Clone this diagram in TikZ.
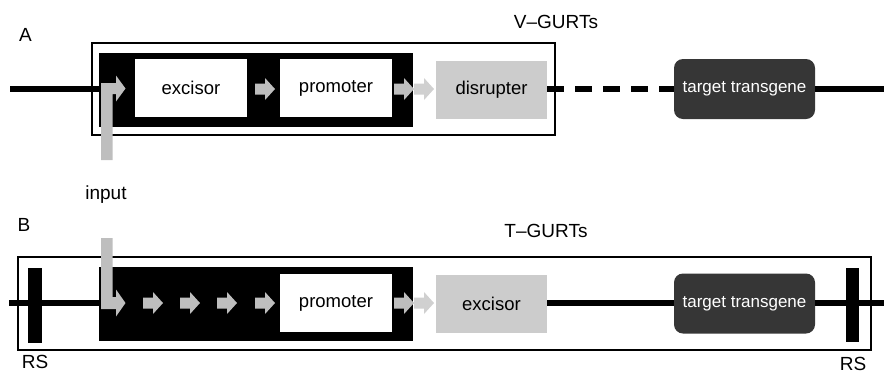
\documentclass[tikz,border=0pt]{standalone}
\usepackage{fontspec}
\setmainfont{Liberation Sans}
\definecolor{lightbox}{HTML}{CCCCCC}
\definecolor{arrowgrey}{HTML}{BEBEBE}
\definecolor{arrowlight}{HTML}{D0D0D0}
\definecolor{darkbox}{HTML}{363636}
\begin{document}
\begin{tikzpicture}[x=1pt,y=-1pt,
  outerbox/.style={draw=black, line width=2pt, fill=white, inner sep=0pt},
  blackbox/.style={fill=black, inner sep=0pt, minimum width=314pt, minimum height=74pt},
  whitebox/.style={fill=white, inner sep=0pt, font=\fontsize{18.5}{20}\selectfont, minimum width=112pt, minimum height=58pt},
  greybox/.style={fill=lightbox, inner sep=0pt, font=\fontsize{18.5}{20}\selectfont, minimum width=111pt, minimum height=58pt},
  targetbox/.style={fill=darkbox, rounded corners=9pt, text=white, inner sep=0pt, font=\fontsize{17}{19}\selectfont, minimum width=141pt, minimum height=60pt},
  dna/.style={line width=6pt, black},
  dnadash/.style={line width=6pt, black, dash pattern=on 17pt off 11pt},
  lbl/.style={font=\fontsize{19}{21}\selectfont, inner sep=0pt},
  rsbar/.style={fill=black, inner sep=0pt, minimum width=14pt, minimum height=75pt},
  inputarrow/.style={fill=arrowgrey},
  blockarrow/.pic={\fill[#1] (-20,-5.5) -- (-10,-5.5) -- (-10,-11) -- (0,0) -- (-10,11) -- (-10,5.5) -- (-20,5.5) -- cycle;}
]
\useasboundingbox (0,0) rectangle (884,373);

% ---------------- Panel A ----------------
\node[lbl] (labA) at (25.5,35) {A};
\node[lbl] (titleA) at (556,22) {V--GURTs};
\node[outerbox, minimum width=463pt, minimum height=92pt] (outerA) at (323.5,89) {};
\coordinate (startA) at (10,88.5);
\coordinate (endA) at (884,88.5);
\node[blackbox] (blackA) at (256,90) {};
\node[whitebox] (excisorA) at (191,88) {excisor};
\node[whitebox] (promoterA) at (336,88) {promoter};
\node[greybox] (disrupterA) at (491.5,89.5) {disrupter};
\node[targetbox] (targetA) at (744.5,89) {target transgene};
\draw[dna] (startA) -- (blackA.west |- startA);
\draw[dnadash] (disrupterA.east |- startA) -- (targetA.west |- startA);
\draw[dna] (targetA.east |- startA) -- (endA);
\pic at (275,89) {blockarrow=arrowgrey};
\pic at (414,89) {blockarrow=arrowgrey};
\pic at (434,89) {blockarrow=arrowlight};
\fill[inputarrow] (101,160) -- (101,83) -- (116,83) -- (116,75.5) -- (125.5,88.5) -- (116,101.5) -- (116,94) -- (112.5,94) -- (112.5,160) -- cycle;

% ---------------- Panel B ----------------
\node[lbl] (inputlab) at (106,195) {input};
\node[lbl] (labB) at (24,225) {B};
\node[lbl] (titleB) at (546,231) {T--GURTs};
\node[outerbox, minimum width=853pt, minimum height=93pt] (outerB) at (444.5,303.5) {};
\coordinate (startB) at (9,303);
\coordinate (endB) at (884,303);
\node[blackbox] (blackB) at (256,304) {};
\node[whitebox] (promoterB) at (336,303) {promoter};
\node[greybox] (excisorB) at (491.5,304) {excisor};
\node[targetbox] (targetB) at (744.5,303.5) {target transgene};
\draw[dna] (startB) -- (blackB.west |- startB);
\draw[dna] (excisorB.east |- startB) -- (targetB.west |- startB);
\draw[dna] (targetB.east |- startB) -- (endB);
\node[rsbar] (rsL) at (35,305) {};
\node[rsbar, minimum width=13pt, minimum height=74pt] (rsR) at (852.5,305) {};
\node[lbl] (rsLlab) at (35,362) {RS};
\node[lbl] (rsRlab) at (853,364) {RS};
\pic at (163,303) {blockarrow=arrowgrey};
\pic at (200,303) {blockarrow=arrowgrey};
\pic at (237,303) {blockarrow=arrowgrey};
\pic at (275,303) {blockarrow=arrowgrey};
\pic at (414,303) {blockarrow=arrowgrey};
\pic at (434,303) {blockarrow=arrowlight};
\fill[inputarrow] (101,238) -- (112.5,238) -- (112.5,297) -- (116,297) -- (116,289.5) -- (125.5,303) -- (116,316.5) -- (116,309) -- (101,309) -- cycle;
\end{tikzpicture}
\end{document}
